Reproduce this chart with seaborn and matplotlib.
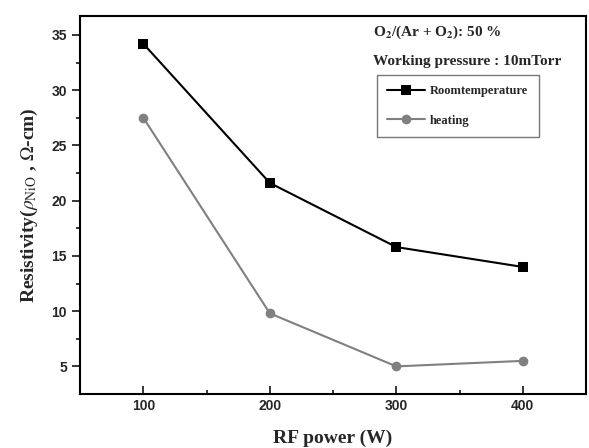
import seaborn as sns
import matplotlib.pyplot as plt
import pandas as pd

rf_power = [100, 200, 300, 400]
room_temp = [34.2, 21.6, 15.8, 14.0]
heating = [27.5, 9.8, 5.0, 5.5]

df = pd.DataFrame({
    'power': rf_power * 2,
    'rho': room_temp + heating,
    'cond': ['Roomtemperature'] * 4 + ['heating'] * 4,
})

sns.set_style('white')
plt.rcParams['mathtext.fontset'] = 'stix'
plt.rcParams['xtick.bottom'] = True
plt.rcParams['ytick.left'] = True

fig = plt.figure(figsize=(5.89, 4.48), dpi=100)
ax = fig.add_axes([0.136, 0.1205, 0.859, 0.8435])

sns.lineplot(data=df, x='power', y='rho', hue='cond', style='cond',
             palette={'Roomtemperature': 'black', 'heating': '#808080'},
             markers={'Roomtemperature': 's', 'heating': 'o'},
             dashes=False, markersize=7, markeredgewidth=0, linewidth=1.5, ax=ax)

ax.set_xlim(50, 450)
ax.set_ylim(2.5, 36.7)
ax.set_xticks([100, 200, 300, 400])
ax.set_xticks([150, 250, 350], minor=True)
ax.set_yticks([5, 10, 15, 20, 25, 30, 35])
ax.set_yticks([7.5, 12.5, 17.5, 22.5, 27.5, 32.5], minor=True)
ax.tick_params(axis='x', which='major', direction='in', length=6, width=1.3)
ax.tick_params(axis='x', which='minor', direction='in', length=3, width=1.3)
ax.tick_params(axis='y', which='major', direction='out', length=6, width=1.3)
ax.tick_params(axis='y', which='minor', direction='out', length=3, width=1.3)
for lab in ax.get_xticklabels() + ax.get_yticklabels():
    lab.set_fontfamily('Liberation Sans')
    lab.set_fontweight('bold')
    lab.set_fontsize(10)
for s in ax.spines.values():
    s.set_linewidth(1.5)
    s.set_color('black')

ax.set_xlabel('RF power (W)', fontfamily='Liberation Serif', fontweight='bold', fontsize=14, labelpad=12)
ax.set_ylabel(r'Resistivity($\rho_{\mathrm{NiO}}$ , $\Omega$-cm)', fontfamily='Liberation Serif',
              fontweight='bold', fontsize=14, labelpad=8)

fig.text(0.634, 0.928, r'O$_\mathbf{2}$/(Ar + O$_\mathbf{2}$): 50 %', fontfamily='Liberation Serif',
         fontweight='bold', fontsize=11, va='center')
fig.text(0.634, 0.862, 'Working pressure : 10mTorr', fontfamily='Liberation Serif',
         fontweight='bold', fontsize=11, va='center')

leg = ax.legend(loc='upper left', bbox_to_anchor=(0.574, 0.862), frameon=True, fancybox=False,
                prop={'family': 'Liberation Serif', 'weight': 'bold', 'size': 9},
                handlelength=3.0, borderpad=0.85, labelspacing=1.4, handletextpad=0.4,
                edgecolor='#555555')
leg.get_frame().set_linewidth(1.0)

fig.savefig('out.png', dpi=100)
